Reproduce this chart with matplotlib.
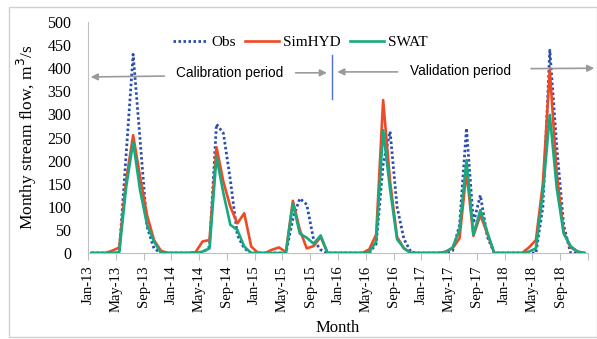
import matplotlib
matplotlib.use("Agg")
import matplotlib.pyplot as plt
from matplotlib.patches import Rectangle
import numpy as np

# Monthly data Jan-2013 .. Dec-2018
obs = [0, 0, 0, 0, 0, 215, 430, 245, 57, 10, 0, 0,
       0, 0, 0, 0, 0, 14, 279, 259, 158, 39, 10, 0,
       0, 0, 0, 0, 0, 74, 118, 105, 28, 7, 0, 0,
       0, 0, 0, 0, 0, 20, 192, 263, 100, 30, 2, 0,
       0, 0, 0, 0, 5, 60, 270, 65, 125, 35, 0, 0,
       0, 0, 0, 0, 0, 100, 439, 230, 60, 0, 0, 0]
simhyd = [0, 0, 0, 5, 12, 158, 255, 165, 82, 28, 5, 0,
          0, 0, 0, 2, 25, 28, 229, 154, 100, 64, 86, 14,
          0, 0, 7, 12, 2, 113, 50, 10, 15, 35, 0, 0,
          0, 0, 0, 0, 8, 40, 331, 155, 35, 10, 0, 0,
          0, 0, 0, 3, 10, 32, 176, 37, 82, 42, 0, 0,
          0, 0, 0, 12, 28, 150, 396, 172, 45, 12, 3, 0]
swat = [0, 0, 0, 0, 2, 143, 240, 136, 61, 25, 0, 0,
        0, 0, 0, 0, 3, 10, 208, 129, 61, 50, 14, 0,
        0, 0, 0, 0, 0, 107, 42, 33, 20, 38, 0, 0,
        0, 0, 0, 0, 2, 25, 266, 138, 30, 10, 0, 0,
        0, 0, 0, 2, 12, 50, 201, 40, 93, 45, 0, 0,
        0, 0, 0, 3, 10, 130, 299, 140, 42, 15, 3, 0]
tick_labels = ["Jan-13", "May-13", "Sep-13", "Jan-14", "May-14", "Sep-14",
               "Jan-15", "May-15", "Sep-15", "Jan-16", "May-16", "Sep-16",
               "Jan-17", "May-17", "Sep-17", "Jan-18", "May-18", "Sep-18"]

serif = "Liberation Serif"
sans = "Liberation Sans"

fig = plt.figure(figsize=(5.97, 3.39), dpi=100)
fig.patches.append(Rectangle((9/597, 1-337/339), 588/597, 330/339,
                             transform=fig.transFigure, fill=False,
                             edgecolor="#d0d0d0", lw=1.0))
ax = fig.add_axes([88/597, 1-253/339, 500/597, 231/339])

x = np.arange(len(obs)) + 0.5
ax.plot(x, obs, color="#2A4DB0", lw=2.0, ls=(0, (0.9, 0.9)), label="Obs", zorder=3)
ax.plot(x, simhyd, color="#EE4A26", lw=1.9, label="SimHYD", zorder=4)
ax.plot(x, swat, color="#17A97F", lw=1.9, label="SWAT", zorder=5)

ax.set_xlim(0, 72)
ax.set_ylim(0, 500)
ax.set_yticks(np.arange(0, 501, 50))
ax.set_xticks(np.arange(0, 73, 4))
ax.set_xticklabels(tick_labels + [""], rotation=90, fontfamily=serif, fontsize=10.5)
for lab in ax.get_yticklabels():
    lab.set_fontfamily(serif)
    lab.set_fontsize(11.5)
ax.tick_params(axis="y", length=0, pad=12)
ax.tick_params(axis="x", direction="out", length=5, color="#bfbfbf", pad=4)
for s in ["top", "right"]:
    ax.spines[s].set_visible(False)
ax.spines["left"].set_color("#bfbfbf")
ax.spines["bottom"].set_color("#bfbfbf")

ax.set_ylabel("Monthy stream flow, m$^3$/s", fontfamily=serif, fontsize=12.5, labelpad=6)
ax.set_xlabel("Month", fontfamily=serif, fontsize=12, labelpad=6)

leg = ax.legend(loc="center", bbox_to_anchor=(0.425, 0.913), ncol=3, frameon=False,
                prop={"family": serif, "size": 11}, handlelength=2.2,
                columnspacing=0.6, handletextpad=0.3)

# Period annotations
arrow_kw = dict(arrowstyle="-|>", color="#9a9a9a", lw=1.2, mutation_scale=10)
ax.annotate("", xy=(0, 381), xytext=(11.4, 383), arrowprops=arrow_kw, annotation_clip=False)
ax.text(20.4, 390, "Calibration period", fontfamily=sans, fontsize=9.8,
        ha="center", va="center")
ax.annotate("", xy=(34.8, 390), xytext=(29.5, 390), arrowprops=arrow_kw, annotation_clip=False)
ax.plot([35.2, 35.2], [333, 428], color="#4a6fd0", lw=1.0)
ax.annotate("", xy=(35.5, 392), xytext=(45.0, 392), arrowprops=arrow_kw, annotation_clip=False)
ax.text(53.6, 394, "Validation period", fontfamily=sans, fontsize=9.8,
        ha="center", va="center")
ax.annotate("", xy=(73.3, 400), xytext=(63.4, 399), arrowprops=arrow_kw, annotation_clip=False)

fig.savefig("out.png", dpi=100)
